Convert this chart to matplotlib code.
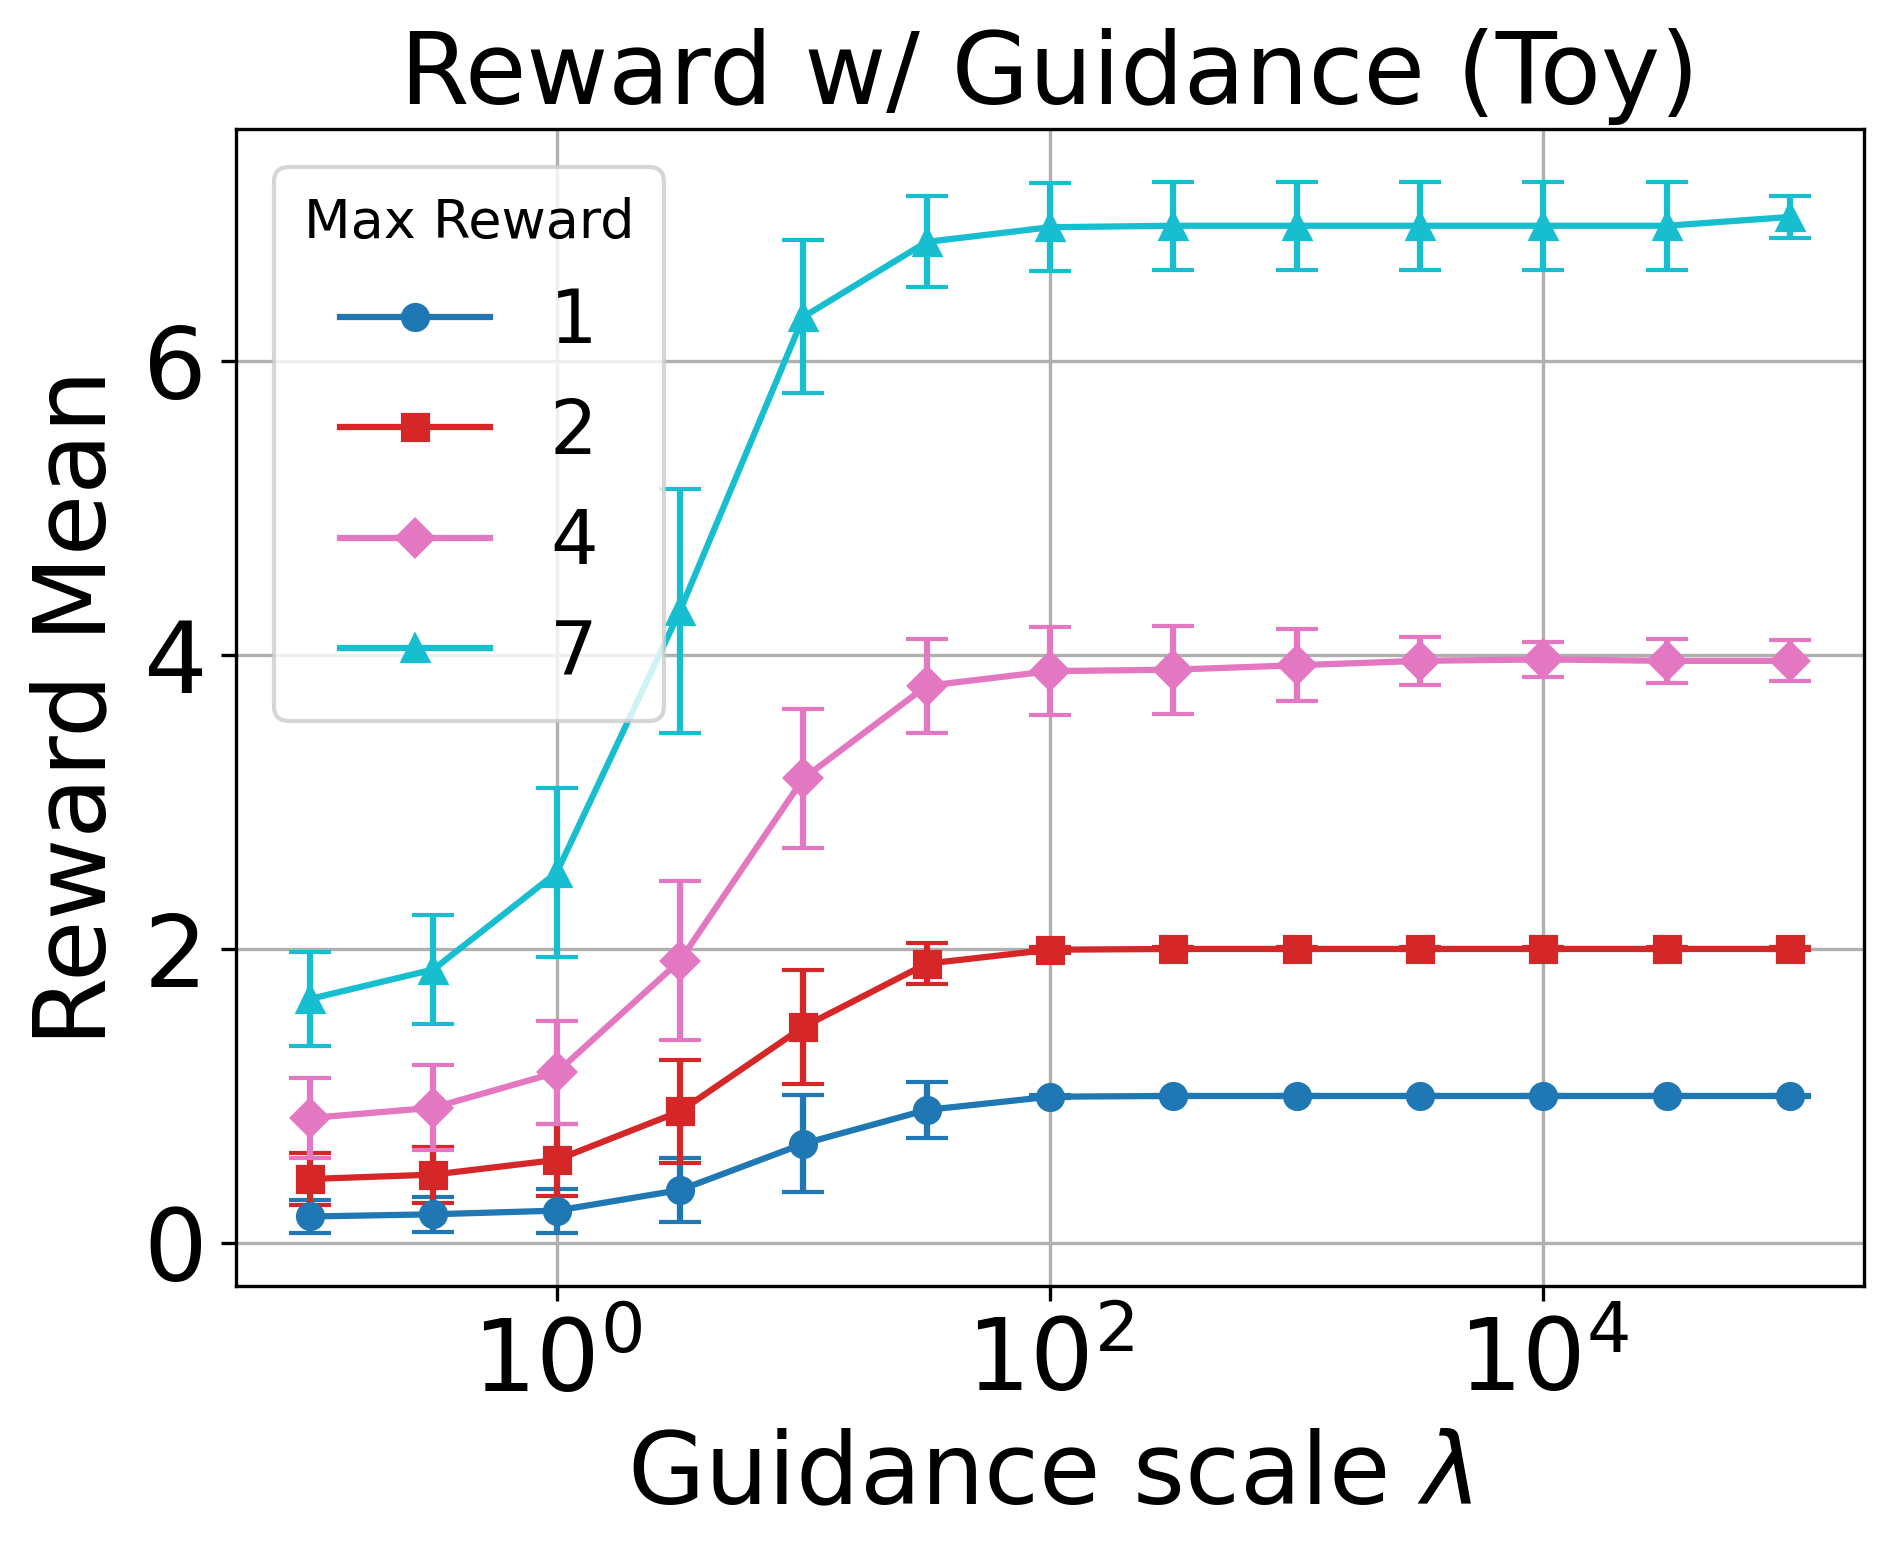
import numpy as np
import matplotlib
matplotlib.use("Agg")
from matplotlib import pyplot as plt

# guidance scales: half-decade steps from 1e-1 to 1e5
scales = [0.1, 0.316, 1, 3.16, 10, 31.6, 100, 316, 1000, 3162, 10000, 31623, 100000]

max_rewards = ["1", "2", "4", "7"]

mean_r1 = [0.18, 0.195, 0.22, 0.36, 0.675, 0.905, 0.995, 1.0, 1.0, 1.0, 1.0, 1.0, 1.0]
err_r1 = [0.115, 0.12, 0.15, 0.22, 0.33, 0.19, 0.01, 0.005, 0.005, 0.005, 0.005, 0.005, 0.005]

mean_r2 = [0.435, 0.465, 0.565, 0.895, 1.47, 1.90, 1.995, 2.0, 2.0, 2.0, 2.0, 2.0, 2.0]
err_r2 = [0.18, 0.19, 0.245, 0.35, 0.39, 0.14, 0.02, 0.01, 0.01, 0.01, 0.01, 0.01, 0.01]

mean_r4 = [0.85, 0.92, 1.16, 1.92, 3.16, 3.79, 3.89, 3.90, 3.93, 3.96, 3.97, 3.96, 3.96]
err_r4 = [0.27, 0.29, 0.35, 0.54, 0.47, 0.32, 0.30, 0.30, 0.245, 0.165, 0.12, 0.15, 0.14]

mean_r7 = [1.66, 1.86, 2.52, 4.30, 6.30, 6.81, 6.91, 6.92, 6.92, 6.92, 6.92, 6.92, 6.98]
err_r7 = [0.32, 0.37, 0.575, 0.83, 0.52, 0.31, 0.30, 0.30, 0.30, 0.30, 0.30, 0.30, 0.14]

means = [mean_r1, mean_r2, mean_r4, mean_r7]
errs = [err_r1, err_r2, err_r4, err_r7]
colors = ["tab:blue", "tab:red", "tab:pink", "tab:cyan"]
markers = ["o", "s", "D", "^"]

plt.rcParams["font.size"] = 24

fig = plt.figure(figsize=(1893 / 300, 1555 / 300), dpi=300)
ax = fig.add_axes([0.1247, 0.173, 0.86, 0.744])

lines = []
for lab, m, e, c, mk in zip(max_rewards, means, errs, colors, markers):
    cont = ax.errorbar(scales, m, yerr=e, color=c, marker=mk, capsize=5, label=lab)
    lines.append(cont[0])

ax.set_xscale("log")
ax.grid(True)
ax.set_title("Reward w/ Guidance (Toy)", fontsize=24)
ax.set_xlabel(r"Guidance scale $\lambda$", fontsize=24)
ax.set_ylabel("Reward Mean", fontsize=24)
ax.tick_params(labelsize=24)
ax.set_yticks([0, 2, 4, 6])

# legend shows only the line+marker, no error bars
ax.legend(lines, max_rewards, title="Max Reward", fontsize=18, title_fontsize=13,
          loc="upper left")

fig.savefig("out.png", dpi=300)
